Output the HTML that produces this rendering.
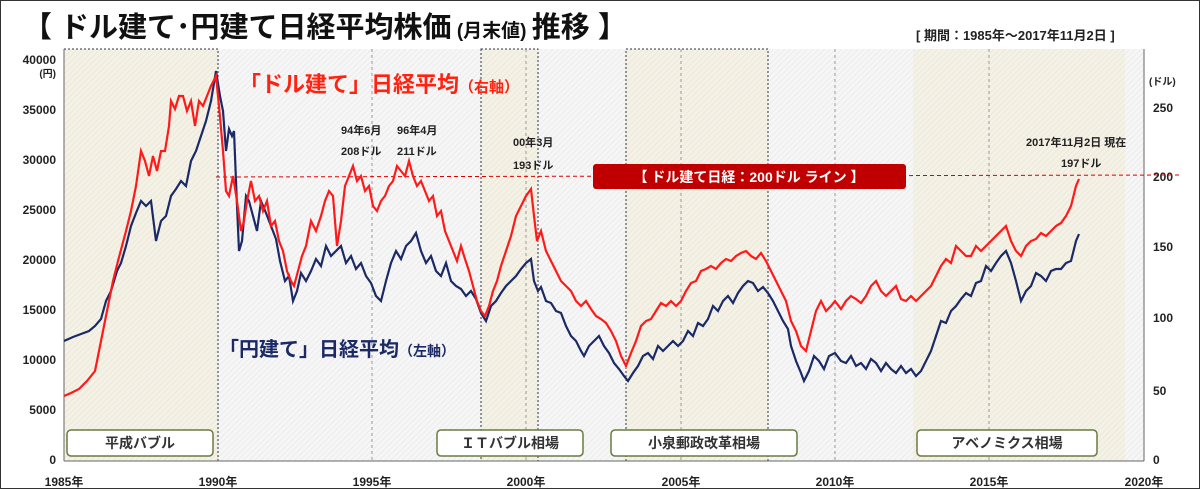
<!DOCTYPE html>
<html><head><meta charset="utf-8"><style>
body{margin:0;background:#fff}
#w{position:relative;width:1198px;height:487px;border:1px solid #333;overflow:hidden;font-family:"Liberation Sans","Noto Sans CJK JP",sans-serif}
.t{position:absolute;white-space:nowrap}
</style></head><body><div id="w">
<svg width="1200" height="489" style="position:absolute;left:0;top:0" font-family="Liberation Sans, Noto Sans CJK JP, sans-serif">
<defs><pattern id="h" width="4" height="4" patternUnits="userSpaceOnUse" patternTransform="rotate(45)"><rect width="4" height="4" fill="#f6f6f6"/><line x1="0" y1="0" x2="0" y2="4" stroke="#e2e2e2" stroke-width="1"/></pattern>
<pattern id="b" width="4" height="4" patternUnits="userSpaceOnUse" patternTransform="rotate(45)"><rect width="4" height="4" fill="#f4f1e6"/><line x1="0" y1="0" x2="0" y2="4" stroke="#e6e0cc" stroke-width="1"/></pattern></defs>
<rect x="63" y="48" width="1080" height="412" fill="url(#h)"/>
<rect x="63" y="48" width="154" height="412" fill="url(#b)" stroke="#334" stroke-dasharray="2,2"/>
<rect x="480" y="48" width="57" height="412" fill="url(#b)" stroke="#334" stroke-dasharray="2,2"/>
<rect x="625" y="48" width="142" height="412" fill="url(#b)" stroke="#334" stroke-dasharray="2,2"/>
<rect x="912" y="48" width="212" height="412" fill="url(#b)"/>
<g stroke="#999" stroke-dasharray="3,3"><line x1="371" y1="48" x2="371" y2="460"/><line x1="525" y1="48" x2="525" y2="460"/><line x1="680" y1="48" x2="680" y2="460"/><line x1="834" y1="48" x2="834" y2="460"/><line x1="988" y1="48" x2="988" y2="460"/></g>
<line x1="63" y1="460" x2="1143" y2="460" stroke="#666"/>
<line x1="63" y1="48" x2="63" y2="460" stroke="#666"/>
<line x1="1143" y1="48" x2="1143" y2="460" stroke="#666"/>
<g font-size="12" font-weight="bold" fill="#222" text-anchor="end">
<text x="55" y="463">0</text><text x="55" y="413">5000</text><text x="55" y="363">10000</text><text x="55" y="313">15000</text><text x="55" y="263">20000</text><text x="55" y="213">25000</text><text x="55" y="163">30000</text><text x="55" y="113">35000</text><text x="55" y="63">40000</text>
<text x="55" y="76" font-size="10">(円)</text></g>
<g font-size="12" font-weight="bold" fill="#222"><text x="1152" y="463">0</text><text x="1152" y="394">50</text><text x="1152" y="321">100</text><text x="1152" y="250">150</text><text x="1152" y="180">200</text><text x="1152" y="111">250</text><text x="1148" y="84" font-size="10">(ドル)</text></g>
<g font-size="12" font-weight="bold" fill="#222" text-anchor="middle"><text x="63" y="485">1985年</text><text x="217" y="485">1990年</text><text x="371" y="485">1995年</text><text x="525" y="485">2000年</text><text x="680" y="485">2005年</text><text x="834" y="485">2010年</text><text x="988" y="485">2015年</text><text x="1143" y="485">2020年</text></g>
<line x1="215" y1="176" x2="1180" y2="174" stroke="#d00" stroke-dasharray="4,3"/>
<polyline fill="none" stroke="#1b2a66" stroke-width="2.2" points="63,340 72,336 80,333 88,330 94,325 100,318 105,300 110,290 116,270 120,262 125,245 130,225 135,212 140,200 145,205 150,200 155,240 160,220 165,215 170,195 175,188 180,180 185,185 190,160 195,150 200,135 205,120 210,100 215,70 219,95 222,110 225,150 228,128 231,135 233,130 236,205 238,250 241,240 245,195 248,200 252,215 256,230 260,200 265,212 270,225 275,238 279,260 284,280 288,275 292,300 296,290 300,272 305,280 310,270 315,258 320,265 325,245 330,255 335,250 340,245 345,262 350,255 355,268 360,262 365,275 370,282 375,295 380,300 385,280 390,262 395,250 400,258 405,245 410,240 415,232 420,250 425,262 430,255 435,270 440,275 445,262 450,280 455,285 460,288 465,295 470,290 475,298 480,312 485,320 490,305 495,300 500,292 505,285 510,280 515,275 520,268 525,262 530,258 533,280 537,290 540,286 545,300 550,302 555,310 560,312 565,325 570,335 575,340 580,350 583,355 588,345 593,340 598,335 603,345 608,352 613,362 618,368 623,375 627,380 632,372 637,365 642,355 647,352 652,358 657,345 662,350 667,345 672,340 677,345 682,340 687,330 692,335 697,322 702,325 707,318 712,305 717,310 722,300 727,295 732,302 737,292 742,285 747,280 752,282 757,290 762,286 767,292 772,300 777,310 782,320 787,328 790,345 795,360 800,372 803,380 808,370 813,355 818,360 823,368 828,355 834,352 840,360 845,362 850,355 855,365 860,362 865,368 870,358 875,362 880,370 885,362 890,368 895,372 900,365 905,372 910,368 915,375 920,370 925,360 930,350 935,335 940,320 945,322 950,310 955,305 960,298 965,292 970,295 975,282 980,280 985,265 990,270 995,262 1000,255 1005,250 1010,262 1015,280 1020,300 1025,290 1030,285 1035,272 1040,275 1045,280 1050,270 1055,268 1060,268 1065,262 1070,260 1075,240 1078,233"/>
<polyline fill="none" stroke="#ff1a1a" stroke-width="2.2" points="63,395 70,392 78,388 86,380 94,370 99,345 104,320 108,300 112,280 117,260 121,245 125,230 130,210 135,185 140,150 144,160 148,175 152,155 156,170 160,150 164,150 168,125 170,100 174,108 178,95 182,95 186,110 190,100 194,125 198,100 202,105 206,95 210,85 215,75 218,105 222,150 225,190 228,195 232,175 236,200 240,230 243,220 246,200 250,180 254,200 258,195 262,210 266,200 270,225 274,220 278,240 282,250 286,270 290,280 293,285 297,270 301,255 305,245 310,220 315,230 320,215 324,200 328,190 332,195 336,245 340,220 344,185 348,175 352,165 356,180 360,175 364,190 368,185 372,205 376,210 380,200 384,195 388,185 392,180 396,165 400,170 404,175 408,160 412,175 416,185 420,180 424,190 428,200 432,195 436,215 440,210 444,230 448,240 452,250 456,260 460,245 464,258 468,270 472,285 476,300 480,310 484,315 488,305 492,290 496,280 500,265 505,250 510,235 515,215 520,205 525,195 530,188 533,215 536,240 540,230 545,250 550,260 555,270 560,280 565,285 570,290 575,300 580,305 585,300 590,308 595,315 600,318 605,322 610,330 615,340 620,355 625,365 630,352 635,340 640,325 645,320 650,318 655,310 660,302 665,305 670,300 675,305 680,300 685,290 690,282 695,280 700,270 705,268 710,265 715,268 720,262 725,258 730,260 735,255 740,252 745,250 750,255 755,258 760,252 765,260 770,270 775,280 780,290 785,300 790,320 795,330 800,345 805,350 810,330 815,310 820,300 825,310 830,305 834,300 840,308 845,300 850,295 855,298 860,302 865,295 870,285 875,280 880,290 885,295 890,290 895,285 900,298 905,300 910,295 915,300 920,295 925,290 930,285 935,275 940,265 945,258 950,262 955,245 960,250 965,255 970,255 975,245 980,250 985,245 990,240 995,235 1000,230 1005,225 1010,240 1015,250 1020,255 1025,245 1030,240 1035,238 1040,232 1045,235 1050,230 1055,225 1060,222 1065,215 1070,205 1075,185 1078,178"/>
<rect x="592" y="163" width="313" height="25" rx="3" fill="#c00000"/>
<text x="748" y="181" fill="#fff" font-size="14" font-weight="bold" text-anchor="middle">【 ドル建て日経：200ドル ライン 】</text>
<g font-size="14" font-weight="bold" fill="#333" text-anchor="middle">
<rect x="66" y="429" width="146" height="26" rx="4" fill="#fff" stroke="#6a7a40" stroke-width="1.5"/><text x="139" y="447">平成バブル</text>
<rect x="436" y="429" width="146" height="26" rx="4" fill="#fff" stroke="#6a7a40" stroke-width="1.5"/><text x="509" y="447">ＩＴバブル相場</text>
<rect x="610" y="429" width="186" height="26" rx="4" fill="#fff" stroke="#6a7a40" stroke-width="1.5"/><text x="703" y="447">小泉郵政改革相場</text>
<rect x="916" y="429" width="180" height="26" rx="4" fill="#fff" stroke="#6a7a40" stroke-width="1.5"/><text x="1006" y="447">アベノミクス相場</text></g>
<g font-size="11" font-weight="bold" fill="#222"><text x="340" y="133">94年6月</text><text x="340" y="154">208ドル</text><text x="396" y="133">96年4月</text><text x="396" y="154">211ドル</text><text x="512" y="145">00年3月</text><text x="512" y="168">193ドル</text><text x="1025" y="145">2017年11月2日 現在</text><text x="1060" y="166">197ドル</text></g>
</svg>
<div class="t" style="left:22px;top:3px;font-size:29px;font-weight:bold;color:#111">【 ドル建て･円建て日経平均株価<span style="font-size:19px"> (月末値) </span>推移 】</div>
<div class="t" style="left:915px;top:24px;font-size:13px;font-weight:bold;color:#222">[ 期間：1985年～2017年11月2日 ]</div>
<div class="t" style="left:238px;top:66px;font-size:22px;font-weight:bold;color:#f21">「ドル建て」日経平均<span style="font-size:15px">（右軸）</span></div>
<div class="t" style="left:218px;top:332px;font-size:20px;font-weight:bold;color:#1b2a66">「円建て」日経平均<span style="font-size:14px">（左軸）</span></div>
</div></body></html>
